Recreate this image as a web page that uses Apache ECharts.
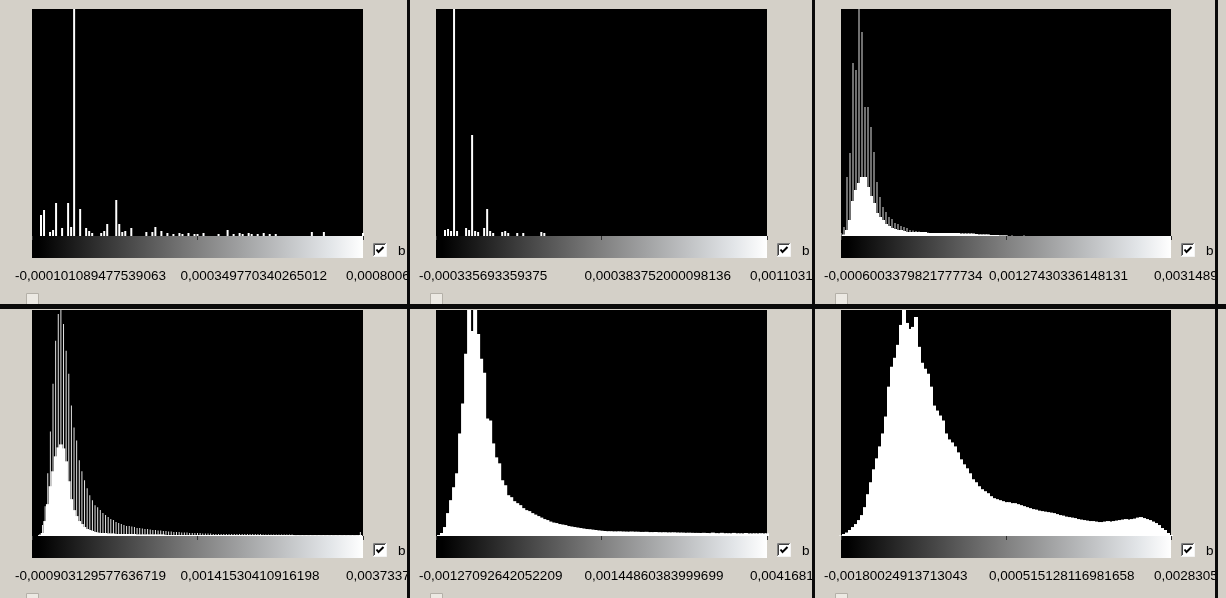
<!DOCTYPE html>
<html>
<head>
<meta charset="utf-8">
<script src="https://cdn.jsdelivr.net/npm/echarts@6/dist/echarts.min.js"></script>
<style>
  html, body { margin: 0; padding: 0; background: #d4d0c8; }
  #main { width: 1226px; height: 598px; }
</style>
</head>
<body>
<div id="main"></div>
<script>
// bin heights (same arbitrary unit in every panel)
var hist1 = [
  0, 0, 0, 21, 26, 0, 4, 6, 33, 0,
  8, 0, 33, 9, 240, 0, 27, 0, 8, 5,
  3, 0, 0, 3, 5, 12, 0, 0, 36, 12,
  4, 5, 0, 8, 0, 0, 0, 0, 4, 0,
  4, 9, 0, 5, 0, 3, 0, 2, 0, 3,
  2, 0, 3, 0, 2, 2, 0, 3, 0, 0,
  0, 0, 2, 0, 0, 6, 0, 2, 0, 3,
  2, 0, 3, 2, 0, 2, 0, 3, 0, 2,
  0, 2, 0, 0, 0, 0, 0, 0, 0, 0,
  0, 0, 0, 4, 0, 0, 0, 4, 0, 0,
  0, 0, 0, 0, 0, 0, 0, 0, 0, 0, 3
];
var hist2 = [
  0, 0, 0, 6, 7, 5, 240, 5, 0, 0,
  8, 6, 101, 5, 4, 0, 8, 27, 5, 3,
  0, 0, 4, 5, 3, 0, 0, 3, 0, 3,
  0, 0, 0, 0, 0, 4, 3, 0, 0, 0,
  0, 0, 0, 0, 0, 0, 0, 0, 0, 0,
  0, 0, 0, 0, 0, 0, 0, 0, 0, 0,
  0, 0, 0, 0, 0, 0, 0, 0, 0, 0,
  0, 0, 0, 0, 0, 0, 0, 0, 0, 0,
  0, 0, 0, 0, 0, 0, 0, 0, 0, 0,
  0, 0, 0, 0, 0, 0, 0, 0, 0, 0,
  0, 0, 0, 0, 0, 0, 0, 0, 0, 0, 0
];
var hist3Peaks = [
  3, 9, 59, 83, 173, 166, 240, 204, 129, 129,
  109, 84, 54, 39, 29, 24, 19, 17, 13, 12,
  10, 9, 8, 6, 5.5, 5, 4.5, 4, 3.5, 3.5,
  3, 3, 3, 3, 2.5, 2.5, 2.5, 2.5, 2, 2,
  2, 2, 2, 2, 2, 2, 1.5, 1.5, 1.5, 1.5,
  1, 1, 1, 1, 1, 1, 0, 0.8, 0, 0,
  0, 0.8, 0, 0, 0, 0, 0, 0, 0, 0,
  0, 0, 0, 0, 0, 0, 0, 0, 0, 0,
  0, 0, 0, 0, 0, 0, 0, 0, 0, 0,
  0, 0, 0, 0, 0, 0, 0, 0, 0, 0,
  0, 0, 0, 0, 0, 0, 0, 0, 0, 0, 0
];
var hist3Base = [
  0, 1.5, 6, 16, 35, 46, 53, 59, 59, 49,
  40, 33, 23, 19, 16, 12, 10, 8, 7, 6,
  6, 5, 4, 4, 4, 4, 4, 4, 4, 3,
  3, 3, 3, 3, 3, 3, 3, 3, 3, 3,
  2.5, 2.5, 2.5, 2.5, 2.5, 2, 1.5, 1.5, 1.5, 1.5,
  1, 1, 1, 0.5, 0.5, 0.5, 0, 0, 0, 0,
  0, 0, 0, 0, 0, 0, 0, 0, 0, 0,
  0, 0, 0, 0, 0, 0, 0, 0, 0, 0,
  0, 0, 0, 0, 0, 0, 0, 0, 0, 0,
  0, 0, 0, 0, 0, 0, 0, 0, 0, 0,
  0, 0, 0, 0, 0, 0, 0, 0, 0, 0, 0
];
var hist4Peaks = [
  0, 0, 0, 2, 11, 30, 63, 105, 153, 196,
  223, 240, 213, 186, 163, 131, 109, 96, 76, 65,
  56, 48, 41, 36, 31, 29, 26, 23, 21, 19,
  17, 16, 14, 13, 12, 11, 10, 10, 9.5, 9,
  8, 8, 7.5, 7, 7, 6.5, 6, 6, 5.5, 5.5,
  5, 5, 4.5, 4.5, 4, 4, 4, 3.5, 3.5, 3.5,
  3, 3, 3, 3, 3, 2.5, 2.5, 2.5, 2.5, 2,
  2, 2, 2, 2, 2, 2, 2, 2, 2, 2,
  2, 2, 2, 2, 2, 2, 2, 2, 1.5, 1.5,
  1.5, 1.5, 1.5, 1.5, 1.5, 1.5, 1.5, 1.5, 1.5, 1.5,
  1, 1, 1, 1, 1, 1, 1, 1, 1, 1,
  1, 1, 1, 1, 1, 1, 1, 1, 1, 1,
  1, 1, 1, 1, 1, 4, 0
];
var hist4Base = [
  0, 0, 0, 1, 3, 15, 32, 50, 65, 80,
  89, 92, 88, 75, 55, 37, 26, 20, 15, 12,
  9, 7, 6, 5, 4, 3.5, 3, 3, 3, 2.5,
  2.5, 2.5, 2, 2, 2, 2, 2, 2, 2, 2,
  1.5, 1.5, 1.5, 1.5, 1.5, 1.5, 1.5, 1.5, 1.5, 1.5,
  1.5, 1, 1, 1, 1, 1, 1, 1, 1, 1,
  1, 1, 1, 1, 1, 1, 1, 1, 1, 1,
  1, 1, 1, 1, 1, 1, 1, 1, 1, 1,
  1, 1, 1, 1, 1, 1, 1, 1, 1, 1,
  1, 1, 1, 1, 1, 1, 1, 1, 1, 1,
  0.8, 0.8, 0.8, 0.8, 0.8, 0.8, 0.8, 0.8, 0.8, 0.8,
  0.8, 0.8, 0.8, 0.8, 0.8, 0.8, 0.8, 0.8, 0.8, 0.8,
  0.8, 0.8, 0.8, 0.8, 0.8, 1, 0
];
var hist5 = [
  0, 1, 3, 9, 23, 36, 49, 63, 103, 133,
  183, 240, 206, 240, 203, 178, 164, 118, 116, 93,
  79, 73, 56, 51, 41, 39, 35, 33, 31, 28,
  26, 25, 23, 21.5, 20, 18.5, 17, 16, 14.5, 13.5,
  13, 12, 11.5, 11, 10, 9.5, 9, 8.5, 8, 7.5,
  7, 6.8, 6.4, 6, 5.6, 5.3, 5, 4.8, 4.8, 4.6,
  4.6, 4.7, 4.5, 4.4, 4.3, 4.5, 4.3, 4.3, 4.1, 4.1,
  4.2, 3.9, 3.9, 4, 3.8, 3.7, 3.8, 3.6, 3.6, 3.7,
  3.5, 3.4, 3.4, 3.2, 3.3, 3.2, 3.1, 3.1, 3, 3.2,
  3, 2.9, 3.4, 2.9, 2.8, 3.2, 2.8, 2.8, 2.7, 3.1,
  2.7, 2.7, 2.6, 3, 2.6, 2.6, 2.7, 2.6, 2.8, 2.6, 2.7
];
var hist6 = [
  0.5, 2, 3.5, 6, 9, 12, 16, 21, 29, 42,
  54, 67, 78, 90, 103, 120, 150, 170, 179, 192,
  212, 240, 214, 208, 210, 220, 190, 174, 168, 163,
  150, 131, 126, 121, 116, 103, 97, 94, 90, 84,
  77, 72, 68, 63, 57, 54, 50, 47, 45, 43,
  40, 38, 37, 36, 35, 34, 34, 33, 33, 32,
  31, 30, 29, 28, 27, 26.5, 25.5, 25, 24.5, 24,
  23.5, 23, 22, 21, 20.5, 19.5, 19, 18.5, 18, 17,
  16.5, 16, 15.5, 15, 15, 14.5, 14, 14, 14.5, 15,
  14.5, 15, 15.5, 16, 16.5, 17, 16.5, 17, 17.5, 18.5,
  19, 18, 17, 16, 14.5, 13, 11, 8, 6, 3, 1
];

// min / middle / max labels (the last one is cut off by the window edge)
var ticks1 = ['-0,000101089477539063', '0,000349770340265012', '0,0008006'];
var ticks2 = ['-0,000335693359375', '0,000383752000098136', '0,0011031'];
var ticks3 = ['-0,0006003379821777734', '0,00127430336148131', '0,0031489'];
var ticks4 = ['-0,000903129577636719', '0,00141530410916198', '0,0037337'];
var ticks5 = ['-0,00127092642052209', '0,00144860383999699', '0,0041681'];
var ticks6 = ['-0,00180024913713043', '0,000515128116981658', '0,0028305'];

var BG = '#d4d0c8';
var FONT = '"Liberation Sans", Arial, sans-serif';
var YMAX = 227;

var panels = [
  {left: 32, top: 9, width: 331, height: 227, ticks: ticks1, layers: [{data: hist1, barWidth: 2, color: '#fff'}]},
  {left: 436, top: 9, width: 331, height: 227, ticks: ticks2, layers: [{data: hist2, barWidth: 2, color: '#fff'}]},
  {left: 841, top: 9, width: 330, height: 227, ticks: ticks3, layers: [
    {data: hist3Peaks, barWidth: 1, color: '#e0e0e0', z: 2},
    {data: hist3Base, fill: true, color: '#fff', z: 3}
  ]},
  {left: 32, top: 310, width: 331, height: 226, ticks: ticks4, layers: [
    {data: hist4Peaks, barWidth: 1, color: '#e4e4e4', z: 2},
    {data: hist4Base, fill: true, color: '#fff', z: 3}
  ]},
  {left: 436, top: 310, width: 331, height: 226, ticks: ticks5, layers: [{data: hist5, fill: true, color: '#fff'}]},
  {left: 841, top: 310, width: 330, height: 226, ticks: ticks6, layers: [{data: hist6, fill: true, color: '#fff'}]}
];

var grids = [], xAxes = [], yAxes = [], series = [], graphics = [];

panels.forEach(function (p, k) {
  var n = p.layers[0].data.length;
  var mid = (n - 1) / 2;
  var band = p.width / (n - 1);
  var cats = p.layers[0].data.map(function (v, i) { return String(i); });
  var keep = function (i) { return i === 0 || i === mid || i === n - 1; };

  grids.push({left: p.left, top: p.top, width: p.width, height: p.height,
    show: true, backgroundColor: '#000', borderWidth: 0});
  yAxes.push({gridIndex: k, type: 'value', min: 0, max: YMAX, show: false});

  p.layers.forEach(function (layer, j) {
    var xi = xAxes.length;
    xAxes.push({
      gridIndex: k,
      type: 'category',
      data: cats,
      boundaryGap: false,
      show: j === 0,
      offset: 22,
      axisLine: {show: false},
      axisTick: {show: true, interval: keep, length: 4, lineStyle: {color: '#303030', width: 1}},
      axisLabel: {
        show: true,
        interval: keep,
        margin: 11,
        align: 'left',
        padding: [0, 0, 0, -17],
        color: '#000',
        fontFamily: FONT,
        fontSize: 13.5,
        formatter: function (v) {
          var i = Number(v);
          return i === 0 ? p.ticks[0] : (i === mid ? p.ticks[1] : p.ticks[2]);
        }
      },
      splitLine: {show: false}
    });
    series.push({
      type: 'bar',
      xAxisIndex: xi,
      yAxisIndex: k,
      data: layer.data,
      silent: true,
      z: layer.z || 2,
      barWidth: layer.fill ? band + 1 : layer.barWidth,
      itemStyle: {color: layer.color}
    });
  });

  var bottom = p.top + p.height;
  var right = p.left + p.width;
  // colour ramp under the plot
  graphics.push({
    type: 'rect', silent: true,
    shape: {x: p.left, y: bottom, width: p.width, height: 22},
    style: {fill: {type: 'linear', x: 0, y: 0, x2: 1, y2: 0, colorStops: [
      {offset: 0, color: '#000'}, {offset: 0.02, color: '#000'},
      {offset: 0.5, color: '#808080'}, {offset: 0.9, color: '#e2e5e8'}, {offset: 1, color: '#fff'}
    ]}}
  });
  // checkbox + "b"
  graphics.push({
    type: 'group', x: right + 10, y: bottom + 7, silent: true,
    children: [
      {type: 'rect', shape: {x: 0.5, y: 0.5, width: 13, height: 13}, style: {fill: '#fff', stroke: '#f4f4f4', lineWidth: 1}},
      {type: 'polyline', shape: {points: [[0.5, 13], [0.5, 0.5], [13, 0.5]]}, style: {stroke: '#808080', lineWidth: 1, fill: null}},
      {type: 'polyline', shape: {points: [[1.5, 12], [1.5, 1.5], [12, 1.5]]}, style: {stroke: '#404040', lineWidth: 1, fill: null}},
      {type: 'polyline', shape: {points: [[3.5, 6.5], [5.5, 9], [10.5, 4]]}, style: {stroke: '#000', lineWidth: 2, fill: null}}
    ]
  });
  graphics.push({
    type: 'text', x: right + 35, y: bottom + 15, silent: true,
    style: {text: 'b', fill: '#000', font: '13.5px ' + FONT, verticalAlign: 'middle'}
  });
  // partly visible control below each panel
  graphics.push({
    type: 'rect', silent: true,
    shape: {x: p.left - 5.5, y: bottom + 57.5, width: 12, height: 11},
    style: {fill: '#ece9e3', stroke: '#b4b0a8', lineWidth: 1}
  });
});

// window splitters drawn over everything
[407, 812, 1215].forEach(function (x) {
  graphics.push({type: 'rect', z: 100, silent: true, shape: {x: x, y: 0, width: 3, height: 598}, style: {fill: '#0a0a0a'}});
});
graphics.push({type: 'rect', z: 100, silent: true, shape: {x: 0, y: 304, width: 1226, height: 5}, style: {fill: '#0a0a0a'}});

var chart = echarts.init(document.getElementById('main'), null, {renderer: 'canvas'});
chart.setOption({
  backgroundColor: BG,
  animation: false,
  grid: grids,
  xAxis: xAxes,
  yAxis: yAxes,
  series: series,
  graphic: graphics
});
</script>
</body>
</html>
